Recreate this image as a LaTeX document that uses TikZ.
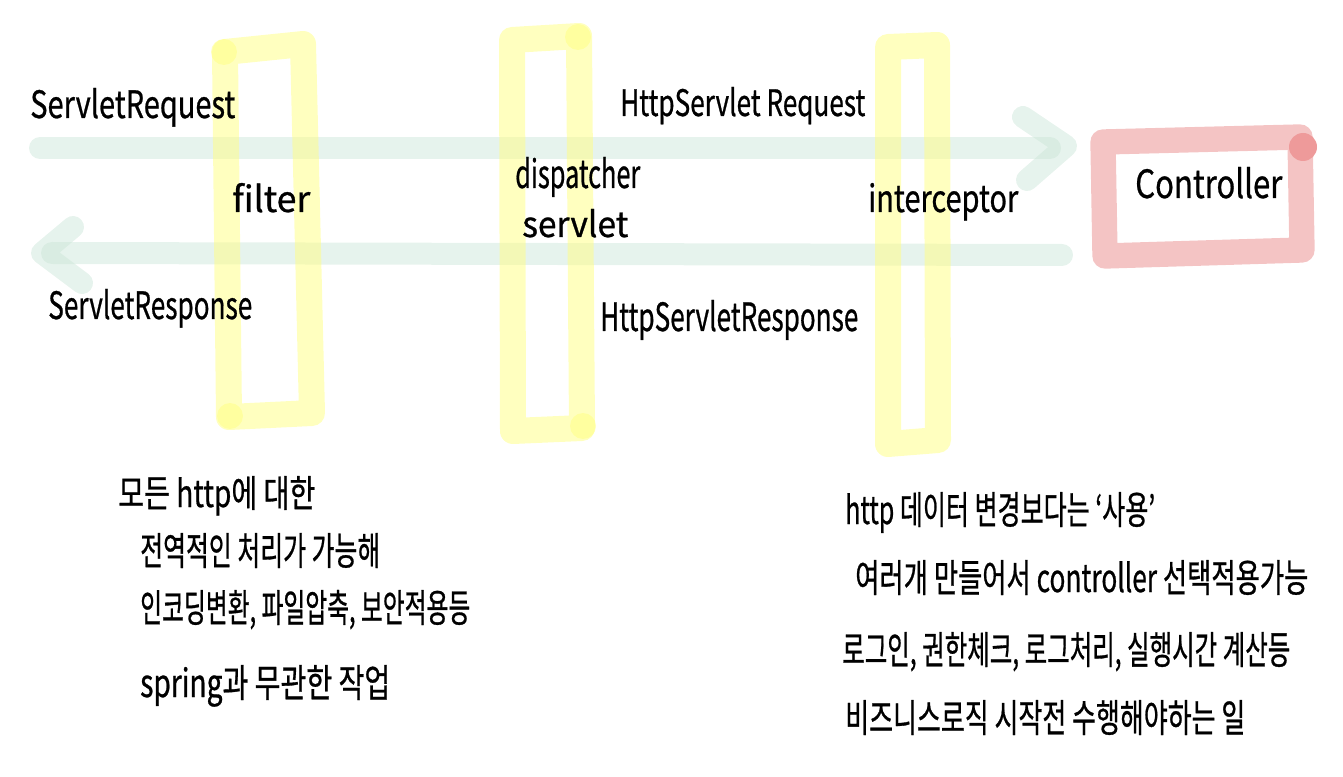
\documentclass[tikz,border=0pt]{standalone}
\usepackage{fontspec}
\setmainfont{Noto Sans CJK KR}
\newfontfamily\handfont{Noto Sans CJK KR}[FakeBold=0.8]
\usepackage{graphicx}
\newdimen\pxu \pxu=0.75pt
\newcommand\fitbox[3]{\resizebox{#1\pxu}{#2\pxu}{\handfont #3}}
\definecolor{barYellow}{HTML}{FFFF80}
\definecolor{flowGreen}{HTML}{C8E4D6}
\definecolor{ctrlPink}{HTML}{F4C4C4}
\definecolor{ctrlDot}{HTML}{EE9A9A}
\tikzset{
  ybar/.style={draw=barYellow, line width=19.5pt, draw opacity=0.5, line cap=round, line join=round},
  ydot/.style={fill=barYellow, fill opacity=0.5},
  flow/.style={draw=flowGreen, line width=16.5pt, draw opacity=0.45, line cap=round, line join=round},
  ctrlbox/.style={draw=ctrlPink, line width=19pt, line cap=round, line join=round},
  lbl/.style={inner sep=0pt, anchor=base west, text=black},
}
\begin{document}
\begin{tikzpicture}[x=0.75pt, y=-0.75pt]
\useasboundingbox (0,0) rectangle (1343,777);
% flows
\coordinate (reqS) at (40,148);
\coordinate (reqE) at (1050,148);
\coordinate (reqT1) at (1023,117);
\coordinate (reqTip) at (1066,146);
\coordinate (reqT2) at (1027,180);
\coordinate (resS) at (1062,255);
\coordinate (resE) at (52,253);
\coordinate (resT1) at (73,227);
\coordinate (resTip) at (42,253);
\coordinate (resT2) at (82,283);
\draw[flow] (reqS) -- (reqE);
\draw[flow] (reqT1) -- (reqTip) -- (reqT2);
\draw[flow] (resS) -- (resE);
\draw[flow] (resT1) -- (resTip) -- (resT2);
% yellow bars
\draw[ybar] (225,52) -- (303,44) -- (312,413) -- (229,417) -- cycle;
\fill[ydot] (224,52) circle (13);
\fill[ydot] (230,416) circle (13);
\draw[ybar] (512,40) -- (579,36) -- (582,428) -- (513,431) -- cycle;
\fill[ydot] (578,37) circle (13);
\fill[ydot] (583,426) circle (13);
\draw[ybar] (888,47) -- (937,45) -- (938,440) -- (888,444) -- cycle;
% controller
\draw[ctrlbox] (1103,142) -- (1300,137) -- (1302,250) -- (1105,256) -- cycle;
\fill[ctrlDot] (1303,147) circle (14);
% labels
\node[lbl] (sreq) at (30,118) {\fitbox{205}{30}{ServletRequest}};
\node[lbl] (hreq) at (620,116) {\fitbox{245}{29}{HttpServlet Request}};
\node[lbl] (filter) at (232,212) {\fitbox{78}{29}{filter}};
\node[lbl] (disp1) at (515,188) {\fitbox{125}{31}{dispatcher}};
\node[lbl] (disp2) at (522,237) {\fitbox{106}{28}{servlet}};
\node[lbl] (icpt) at (868,212) {\fitbox{150}{29}{interceptor}};
\node[lbl] (ctrl) at (1135,198) {\fitbox{147}{31}{Controller}};
\node[lbl] (sres) at (48,319) {\fitbox{204}{30}{ServletResponse}};
\node[lbl] (hres) at (600,331) {\fitbox{258}{31}{HttpServletResponse}};
% left notes
\node[lbl] (l1) at (118,507) {\fitbox{197}{31}{모든 http에 대한}};
\node[lbl] (l2) at (140,565) {\fitbox{240}{32}{전역적인 처리가 가능해}};
\node[lbl] (l3) at (140,622) {\fitbox{330}{32}{인코딩변환, 파일압축, 보안적용등}};
\node[lbl] (l4) at (140,697) {\fitbox{250}{32}{spring과 무관한 작업}};
% right notes
\node[lbl] (r1) at (845,524) {\fitbox{310}{32}{http 데이터 변경보다는 ‘사용’}};
\node[lbl] (r2) at (855,592) {\fitbox{453}{32}{여러개 만들어서 controller 선택적용가능}};
\node[lbl] (r3) at (842,664) {\fitbox{448}{32}{로그인, 권한체크, 로그처리, 실행시간 계산등}};
\node[lbl] (r4) at (845,732) {\fitbox{400}{32}{비즈니스로직 시작전 수행해야하는 일}};
\end{tikzpicture}
\end{document}
